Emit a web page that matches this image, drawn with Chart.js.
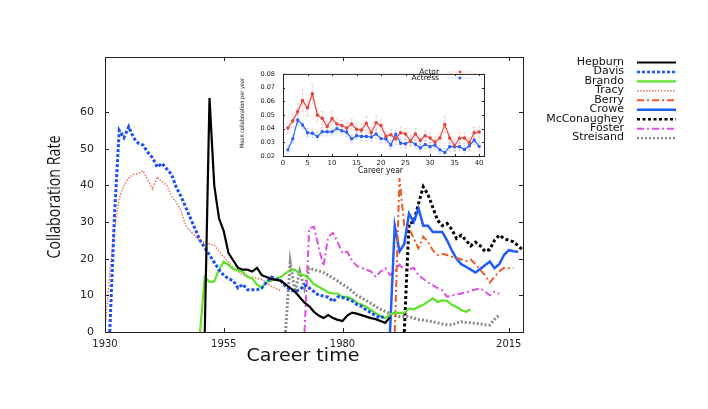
<!DOCTYPE html>
<html>
<head>
<meta charset="utf-8">
<title>Collaboration rate over career time</title>
<script src="https://cdn.jsdelivr.net/npm/chart.js@4.4.0/dist/chart.umd.min.js"></script>
<style>
  html, body { margin: 0; padding: 0; background: #fff; }
  #wrap { position: relative; width: 708px; height: 409px; }
  #main { position: absolute; left: 0; top: 0; }
  #inset { position: absolute; left: 230px; top: 62px; }
</style>
</head>
<body>
<div id="wrap">
  <canvas id="main" width="708" height="409"></canvas>
  <canvas id="inset" width="260" height="118"></canvas>
</div>
<script>
// ---- main chart data (one value per year, from the start year) ----
const xTickValues = [1930, 1955, 1980, 2015];
const yTickValues = [0, 10, 20, 30, 40, 50, 60];
const actorNames = ['Hepburn', 'Davis', 'Brando', 'Tracy', 'Berry', 'Crowe', 'McConaughey', 'Foster', 'Streisand'];
const startYears = [1951, 1931, 1950, 1930, 1991, 1990, 1993, 1972, 1968];

const hepburn = [0, 63.8, 40, 31, 27.5, 21.5, 19.5, 17.5, 17, 17, 16.5, 17.5, 15.5, 15, 14.5, 14.2, 14, 13, 12, 11,
  9.5, 8, 7, 5.5, 4.5, 3.8, 4.6, 3.8, 3.3, 3, 4.5, 5.3, 5, 4.6, 4.2, 3.8, 3.5, 3, 2.5, 4];
const davis = [0, 32, 55, 53, 56, 53, 51.5, 51, 49, 47.5, 45, 46, 44.5, 43, 39.5, 37, 34, 31, 28, 25,
  23, 21, 19, 17, 15.5, 14.5, 14, 12, 13, 11.5, 11.5, 11.5, 12, 13.5, 15, 14.5, 14, 12.5, 11.5, 11,
  11.5, 12.8, 12, 11, 10, 9.8, 9.5, 8.3, 9.6, 9.4, 9, 8.5, 7.5, 7, 6, 5.2, 4.5, 3.8, 4.5];
const brando = [0, 15, 13.7, 13.8, 17, 19.2, 18.3, 17.2, 16.8, 16.4, 15, 14.6, 13, 12, 13.7, 14, 14.5, 15, 16, 16.9,
  17, 15.8, 15.5, 14.5, 13, 12.3, 11.6, 10.8, 10.5, 10.5, 9.6, 9.6, 9, 8, 7.5, 6.9, 6, 5.1, 4.3, 3.8,
  4.8, 5.3, 5.2, 5.2, 6.4, 6.2, 6.8, 7.4, 8.3, 9.2, 8.2, 8.6, 8.5, 7.4, 6.8, 6, 5.5, 6.2];
const tracy = [1, 16, 28, 36.5, 40, 42, 43, 43.2, 44, 41.5, 39, 42.3, 41, 40, 37, 35.5, 33, 29, 27.5, 26,
  25, 24.2, 24, 23.7, 22, 20.5, 19, 17.5, 16.5, 15.5, 15.2, 15, 14.6, 14.3, 13.5, 12.5, 11.8, 11.3];
const berry = [0, 42, 29, 28.3, 25.5, 22.8, 26, 24.6, 22.3, 21, 21.3, 21, 20.5, 20.2, 19.8, 19.3, 19.8, 18.5, 16.9, 15.5,
  13.5, 15, 16.5, 17.5, 17.4, 17.4];
const crowe = [0, 29, 22, 24, 32.3, 30, 33.7, 29, 29, 27.3, 27.3, 27.3, 25, 22.3, 20, 18.5, 17.8, 17, 16.2, 17.2,
  18.2, 19.2, 17.4, 18.5, 21, 22.3, 22, 21.9];
const mcconaughey = [0, 29.6, 30, 35, 39.6, 37.5, 34, 30.5, 29, 29.6, 28, 25.5, 26.4, 25, 23.5, 24.5, 23.5, 22, 22.5, 25,
  26.4, 25.5, 25, 24.6, 23.5, 22.3];
const foster = [0, 28.3, 28.7, 23, 18, 26, 27, 24.5, 21.5, 21.9, 19.5, 18, 17.5, 17, 16.5, 15, 16.5, 17.4, 15.5, 16.5,
  18.3, 17, 17, 17.5, 15.5, 14.5, 13.5, 12.8, 12, 11.4, 9.6, 10, 10.2, 10.5, 10.8, 11.2, 11.6, 11.9, 11, 10,
  11, 10.4];
const streisand = [0, 19, 11, 16.5, 12, 17.4, 17, 16.7, 16.2, 15.5, 14.7, 13.9, 13, 12.2, 11.2, 10, 9.3, 8.6, 7.8, 6.9,
  6.2, 5.6, 5, 4.5, 4.2, 4.3, 4.2, 3.8, 3.4, 3.2, 3, 2.8, 2.5, 2.2, 2, 1.9, 2.5, 2.8, 2.6, 2.5,
  2.4, 2.2, 2, 1.9, 3.5, 4.6];

// ---- inset data ----
const insetXTicks = [0, 5, 10, 15, 20, 25, 30, 35, 40];
const insetYTicks = [0.02, 0.03, 0.04, 0.05, 0.06, 0.07, 0.08];
const careerYears = Array.from({ length: 40 }, (_, i) => i + 1);
const actorMean = [0.0405, 0.0457, 0.0525, 0.0605, 0.0552, 0.0655, 0.050, 0.0475, 0.0416, 0.0473,
  0.0434, 0.0423, 0.0405, 0.0434, 0.0395, 0.0389, 0.0439, 0.037, 0.0443, 0.0423,
  0.0343, 0.0355, 0.0325, 0.037, 0.0361, 0.0309, 0.0361, 0.0314, 0.0348, 0.0332,
  0.0302, 0.0332, 0.043, 0.0332, 0.0275, 0.033, 0.0332, 0.0298, 0.037, 0.0375];
const actorErr = [0.004, 0.005, 0.006, 0.008, 0.006, 0.007, 0.005, 0.005, 0.004, 0.005,
  0.004, 0.004, 0.004, 0.004, 0.004, 0.004, 0.005, 0.004, 0.005, 0.004,
  0.004, 0.004, 0.004, 0.004, 0.004, 0.004, 0.004, 0.004, 0.004, 0.004,
  0.004, 0.004, 0.006, 0.004, 0.004, 0.004, 0.004, 0.004, 0.004, 0.004];
const actressMean = [0.0245, 0.0325, 0.0464, 0.0427, 0.037, 0.0366, 0.0343, 0.0377, 0.0377, 0.0377,
  0.040, 0.0384, 0.0375, 0.0325, 0.0348, 0.0343, 0.0343, 0.0339, 0.0361, 0.0327,
  0.0325, 0.028, 0.0359, 0.0293, 0.0289, 0.0309, 0.0286, 0.0259, 0.0284, 0.0268,
  0.028, 0.0245, 0.0225, 0.0268, 0.0268, 0.0268, 0.0248, 0.0275, 0.0316, 0.027];
const actressErr = [0.003, 0.003, 0.004, 0.003, 0.003, 0.003, 0.003, 0.003, 0.003, 0.003,
  0.003, 0.003, 0.003, 0.003, 0.003, 0.003, 0.003, 0.003, 0.003, 0.003,
  0.003, 0.003, 0.003, 0.003, 0.003, 0.003, 0.003, 0.003, 0.003, 0.003,
  0.003, 0.003, 0.003, 0.003, 0.003, 0.003, 0.003, 0.003, 0.003, 0.003];

// ---- styles ----
const seriesValues = [hepburn, davis, brando, tracy, berry, crowe, mcconaughey, foster, streisand];
const seriesStyles = [
  { color: '#000000', width: 2.2, dash: [] },
  { color: '#1a4fff', width: 3, dash: [3, 2] },
  { color: '#5fe22c', width: 2.2, dash: [] },
  { color: '#f07262', width: 1.5, dash: [1.5, 1.5] },
  { color: '#f05a26', width: 2, dash: [7, 3, 2, 3] },
  { color: '#1f5cff', width: 2.5, dash: [] },
  { color: '#000000', width: 3, dash: [3, 2.5] },
  { color: '#e24ee8', width: 2, dash: [7, 3, 2, 3] },
  { color: '#8a8a8a', width: 3, dash: [2, 2] }
];

function toPoints(start, values) {
  return values.map((v, i) => ({ x: start + i, y: v }));
}

// Draw a text squeezed or stretched to a given width
function fitText(ctx, text, x, y, font, width, angle) {
  ctx.save();
  ctx.font = font;
  const w = ctx.measureText(text).width;
  ctx.translate(x, y);
  if (angle) ctx.rotate(angle);
  ctx.scale(width / w, 1);
  ctx.textAlign = 'center';
  ctx.textBaseline = 'middle';
  ctx.fillStyle = '#111';
  ctx.fillText(text, 0, 0);
  ctx.restore();
}

// Box round the plot area with inward tick marks
function drawFrame(chart, xTicks, yTicks, len) {
  const { ctx, chartArea: a, scales } = chart;
  ctx.save();
  ctx.strokeStyle = '#222';
  ctx.lineWidth = 1;
  ctx.setLineDash([]);
  ctx.strokeRect(a.left + 0.5, a.top + 0.5, a.right - a.left, a.bottom - a.top);
  ctx.beginPath();
  xTicks.forEach(v => {
    const px = Math.round(scales.x.getPixelForValue(v)) + 0.5;
    ctx.moveTo(px, a.bottom); ctx.lineTo(px, a.bottom - len);
    ctx.moveTo(px, a.top); ctx.lineTo(px, a.top + len);
  });
  yTicks.forEach(v => {
    const py = Math.round(scales.y.getPixelForValue(v)) + 0.5;
    ctx.moveTo(a.left, py); ctx.lineTo(a.left + len, py);
    ctx.moveTo(a.right, py); ctx.lineTo(a.right - len, py);
  });
  ctx.stroke();
  ctx.restore();
}

const mainDecor = {
  id: 'mainDecor',
  afterDraw(chart) {
    const ctx = chart.ctx;
    drawFrame(chart, xTickValues, yTickValues, 4);
    fitText(ctx, 'Collaboration Rate', 55, 197, '19px "Open Sans"', 123, -Math.PI / 2);
    fitText(ctx, 'Career time', 303, 356, '18px "DejaVu Sans"', 113, 0);

    // legend: name on the left, line sample on the right
    ctx.save();
    ctx.font = '11px "DejaVu Sans"';
    ctx.textAlign = 'right';
    ctx.textBaseline = 'middle';
    chart.data.datasets.forEach((ds, i) => {
      const y = 62 + i * 9.45;
      ctx.fillStyle = '#111';
      ctx.fillText(ds.label, 624, y);
      ctx.strokeStyle = ds.borderColor;
      ctx.lineWidth = Math.min(ds.borderWidth, 2.4);
      ctx.setLineDash(ds.borderDash);
      ctx.beginPath();
      ctx.moveTo(637, y + 0.5);
      ctx.lineTo(676, y + 0.5);
      ctx.stroke();
    });
    ctx.restore();
  }
};

const datasets = actorNames.map((name, i) => ({
  label: name,
  data: toPoints(startYears[i], seriesValues[i]),
  borderColor: seriesStyles[i].color,
  borderWidth: seriesStyles[i].width,
  borderDash: seriesStyles[i].dash,
  pointRadius: 0,
  fill: false,
  tension: 0
}));

new Chart(document.getElementById('main'), {
  type: 'line',
  data: { datasets },
  options: {
    responsive: false,
    animation: false,
    layout: { padding: { top: 57, right: 185, left: 0, bottom: 0 } },
    plugins: { legend: { display: false }, tooltip: { enabled: false } },
    scales: {
      x: {
        type: 'linear', min: 1930, max: 2018,
        grid: { display: false, drawTicks: false },
        border: { display: false },
        afterBuildTicks: s => { s.ticks = xTickValues.map(v => ({ value: v })); },
        afterFit: s => { s.height = 77; },
        ticks: { font: { family: 'DejaVu Sans', size: 10 }, color: '#222', padding: 6,
          maxRotation: 0, autoSkip: false, callback: v => String(v) }
      },
      y: {
        min: 0, max: 75,
        grid: { display: false, drawTicks: false },
        border: { display: false },
        afterBuildTicks: s => { s.ticks = yTickValues.map(v => ({ value: v })); },
        afterFit: s => { s.width = 105; },
        ticks: { font: { family: 'DejaVu Sans', size: 11 }, color: '#222', padding: 11,
          autoSkip: false, callback: v => String(v) }
      }
    }
  },
  plugins: [mainDecor]
});

// ---- inset ----
const insetDecor = {
  id: 'insetDecor',
  beforeDatasetsDraw(chart) {
    // error bars
    const { ctx, scales } = chart;
    ctx.save();
    ctx.lineWidth = 0.8;
    chart.data.datasets.forEach(ds => {
      ctx.strokeStyle = ds.errColor;
      ctx.beginPath();
      ds.data.forEach((p, i) => {
        const px = scales.x.getPixelForValue(p.x);
        const y1 = scales.y.getPixelForValue(p.y - ds.errors[i]);
        const y2 = scales.y.getPixelForValue(p.y + ds.errors[i]);
        ctx.moveTo(px, y1); ctx.lineTo(px, y2);
        ctx.moveTo(px - 1.5, y1); ctx.lineTo(px + 1.5, y1);
        ctx.moveTo(px - 1.5, y2); ctx.lineTo(px + 1.5, y2);
      });
      ctx.stroke();
    });
    ctx.restore();
  },
  afterDraw(chart) {
    const ctx = chart.ctx;
    drawFrame(chart, insetXTicks, insetYTicks, 2);
    fitText(ctx, 'Mean collaboration per year', 12, 51, '6px "DejaVu Sans"', 70, -Math.PI / 2);
    fitText(ctx, 'Career year', 150.5, 109, '8px "DejaVu Sans"', 45, 0);

    ctx.save();
    ctx.font = '7.5px "DejaVu Sans"';
    ctx.textAlign = 'right';
    ctx.textBaseline = 'middle';
    chart.data.datasets.forEach((ds, i) => {
      const y = 10 + i * 6;
      ctx.fillStyle = '#111';
      ctx.fillText(ds.label, 209, y);
      ctx.strokeStyle = ds.errColor;
      ctx.lineWidth = 0.8;
      ctx.beginPath();
      ctx.moveTo(217, y); ctx.lineTo(243, y);
      ctx.stroke();
      ctx.fillStyle = ds.borderColor;
      if (ds.pointStyle === 'rect') {
        ctx.fillRect(228.5, y - 1.3, 2.6, 2.6);
      } else {
        ctx.beginPath();
        ctx.arc(230, y, 1.4, 0, Math.PI * 2);
        ctx.fill();
      }
    });
    ctx.restore();
  }
};

new Chart(document.getElementById('inset'), {
  type: 'line',
  data: {
    datasets: [
      {
        label: 'Actor',
        data: careerYears.map((c, i) => ({ x: c, y: actorMean[i] })),
        errors: actorErr,
        errColor: 'rgba(240, 120, 110, 0.35)',
        borderColor: '#e8473f', backgroundColor: '#e8473f',
        borderWidth: 1.2, pointRadius: 1.2, pointStyle: 'circle', tension: 0
      },
      {
        label: 'Actress',
        data: careerYears.map((c, i) => ({ x: c, y: actressMean[i] })),
        errors: actressErr,
        errColor: 'rgba(110, 140, 255, 0.35)',
        borderColor: '#2a5cff', backgroundColor: '#2a5cff',
        borderWidth: 1.2, pointRadius: 1.2, pointStyle: 'rect', tension: 0
      }
    ]
  },
  options: {
    responsive: false,
    animation: false,
    layout: { padding: { top: 6, right: 6, left: 0, bottom: 0 } },
    plugins: { legend: { display: false }, tooltip: { enabled: false } },
    scales: {
      x: {
        type: 'linear', min: 0, max: 41,
        grid: { display: false, drawTicks: false },
        border: { display: false },
        afterBuildTicks: s => { s.ticks = insetXTicks.map(v => ({ value: v })); },
        afterFit: s => { s.height = 24; },
        ticks: { font: { family: 'DejaVu Sans', size: 7 }, color: '#222', padding: 3,
          maxRotation: 0, autoSkip: false, callback: v => String(v) }
      },
      y: {
        min: 0.02, max: 0.08,
        grid: { display: false, drawTicks: false },
        border: { display: false },
        afterBuildTicks: s => { s.ticks = insetYTicks.map(v => ({ value: v })); },
        afterFit: s => { s.width = 53; },
        ticks: { font: { family: 'DejaVu Sans', size: 6.5 }, color: '#222', padding: 8,
          autoSkip: false, callback: v => v.toFixed(2) }
      }
    }
  },
  plugins: [insetDecor]
});
</script>
</body>
</html>
